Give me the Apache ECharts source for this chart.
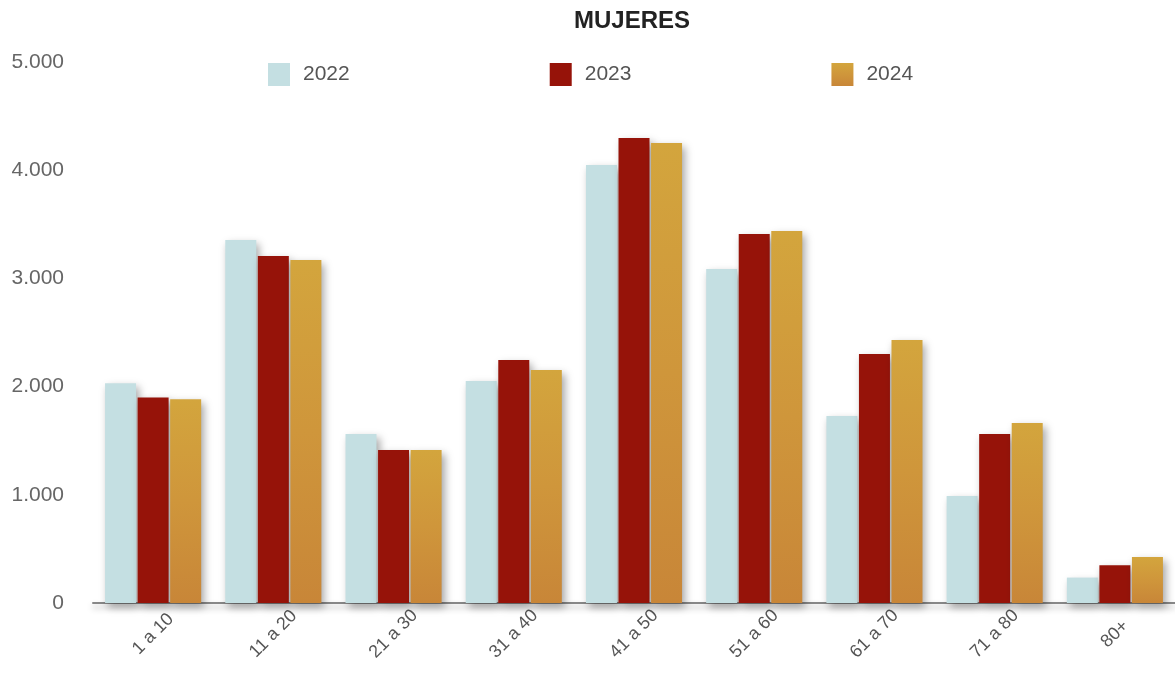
<!DOCTYPE html>
<html><head><meta charset="utf-8">
<script src="https://cdn.jsdelivr.net/npm/echarts@6/dist/echarts.min.js"></script>
<style>html,body{margin:0;padding:0;background:#fff}#c{width:1175px;height:682px}</style>
</head><body><div id="c"></div>
<script>
const categories = ['1 a 10','11 a 20','21 a 30','31 a 40','41 a 50','51 a 60','61 a 70','71 a 80','80+'];
const s2022 = [2030, 3355, 1562, 2052, 4048, 3087, 1728, 989, 235];
const s2023 = [1900, 3207, 1414, 2246, 4298, 3410, 2301, 1562, 350];
const s2024 = [1882, 3170, 1414, 2153, 4251, 3438, 2431, 1664, 424];
const yTicks = [0, 1000, 2000, 3000, 4000, 5000];

const fmt = v => String(v).replace(/\B(?=(\d{3})+(?!\d))/g, '.');
const shadow = {shadowBlur: 8, shadowOffsetX: 3, shadowOffsetY: 4, shadowColor: 'rgba(0,0,0,0.35)'};
const gold = new echarts.graphic.LinearGradient(0,0,0,1,[{offset:0,color:'#d3a53d'},{offset:0.5,color:'#cf963b'},{offset:1,color:'#c88638'}]);
const font = '"Liberation Sans", Arial, sans-serif';
const chart = echarts.init(document.getElementById('c'));
chart.setOption({
  animation: false,
  textStyle: {fontFamily: font},
  title: {text: 'MUJERES', left: 569, top: 4, textStyle: {fontFamily: font, fontSize: 24, fontWeight: 'bold', color: '#222'}},
  legend: {left: 263, top: 58, itemWidth: 22, itemHeight: 23, itemGap: 200, icon: 'rect',
    textStyle: {fontFamily: font, fontSize: 21, color: '#555', padding: [0,0,0,8]},
    data: ['2022','2023','2024']},
  grid: {left: 93, right: 0, top: 62, bottom: 79, containLabel: false},
  xAxis: {type: 'category', data: categories,
    axisLine: {lineStyle: {color: '#888', width: 2, shadowBlur: 6, shadowOffsetY: 4, shadowColor: 'rgba(0,0,0,0.3)'}},
    axisTick: {show: false},
    axisLabel: {rotate: 45, align: 'center', verticalAlign: 'middle', margin: 31, fontSize: 18, color: '#555', fontFamily: font}},
  yAxis: {type: 'value', min: yTicks[0], max: yTicks[yTicks.length-1], interval: 1000,
    splitLine: {show: false}, axisLine: {show: false}, axisTick: {show: false},
    axisLabel: {formatter: v => fmt(v), fontSize: 21, color: '#666', margin: 29, fontFamily: font}},
  series: [
    {name: '2022', type: 'bar', data: s2022, barWidth: 31, barGap: '5%', barCategoryGap: '19%', itemStyle: Object.assign({color: '#c4dfe2'}, shadow)},
    {name: '2023', type: 'bar', data: s2023, barWidth: 31, barGap: '5%', itemStyle: Object.assign({color: '#961309'}, shadow)},
    {name: '2024', type: 'bar', data: s2024, barWidth: 31, barGap: '5%', itemStyle: Object.assign({color: gold}, shadow)}
  ]
});
</script></body></html>
